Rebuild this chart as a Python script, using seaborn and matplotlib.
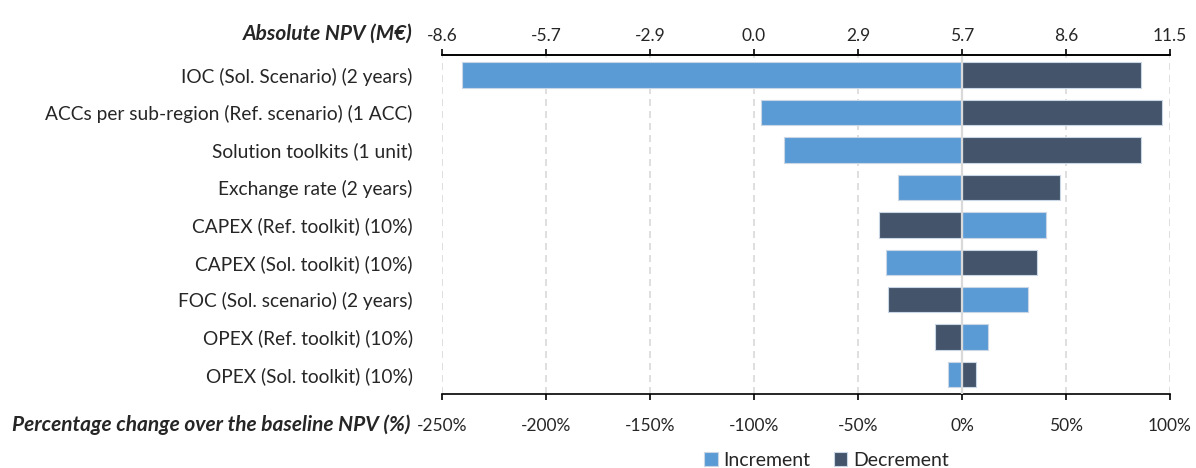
import matplotlib
matplotlib.use("Agg")
import matplotlib.pyplot as plt
import seaborn as sns
import pandas as pd

categories = [
    "IOC (Sol. Scenario) (2 years)",
    "ACCs per sub-region (Ref. scenario) (1 ACC)",
    "Solution toolkits (1 unit)",
    "Exchange rate (2 years)",
    "CAPEX (Ref. toolkit) (10%)",
    "CAPEX (Sol. toolkit) (10%)",
    "FOC (Sol. scenario) (2 years)",
    "OPEX (Ref. toolkit) (10%)",
    "OPEX (Sol. toolkit) (10%)",
]
increment = [-240.2, -96.6, -85.5, -30.7, 40.4, -36.6, 31.9, 12.5, -6.9]
decrement = [85.9, 96.2, 85.9, 47.1, -40.0, 36.2, -35.8, -13.0, 6.5]

pct_ticks = [-250, -200, -150, -100, -50, 0, 50, 100]
pct_labels = ["-250%", "-200%", "-150%", "-100%", "-50%", "0%", "50%", "100%"]
npv_labels = ["-8.6", "-5.7", "-2.9", "0.0", "2.9", "5.7", "8.6", "11.5"]

series_names = ["Increment", "Decrement"]
colors = {"Increment": "#5B9BD5", "Decrement": "#44546A"}

df = pd.DataFrame({
    "category": categories * 2,
    "value": increment + decrement,
    "kind": ["Increment"] * len(categories) + ["Decrement"] * len(categories),
})

sns.set_style("white")
plt.rcParams["font.family"] = ["Lato", "DejaVu Sans"]

fig = plt.figure(figsize=(11.96, 4.68), dpi=100)
ax = fig.add_axes([0.3696, 0.158, 0.6087, 0.7245])

sns.barplot(data=df, x="value", y="category", hue="kind", hue_order=series_names,
            order=categories, palette=colors, dodge=False, width=0.68, saturation=1,
            linewidth=0.8, edgecolor="#C9D6E6", ax=ax, zorder=3)

ax.set_xlim(-250, 100)
ax.set_ylim(8.52, -0.54)
ax.set_xticks(pct_ticks)
ax.set_xticklabels(pct_labels, fontsize=12.5)
ax.grid(axis="x", linestyle=(0, (4.2, 3)), linewidth=1.2, color="#D9D9D9", zorder=0)
ax.grid(axis="y", visible=False)
ax.axvline(0, color="#D9D9D9", linewidth=1.6, zorder=4)
ax.set_xlabel("")
ax.set_ylabel("")
ax.tick_params(axis="y", length=0, pad=21, labelsize=13.8)
ax.tick_params(axis="x", direction="out", length=4, width=1.2, color="black", pad=13)
for s in ["left", "right"]:
    ax.spines[s].set_visible(False)
for s in ["top", "bottom"]:
    ax.spines[s].set_color("black")
    ax.spines[s].set_linewidth(1.2)

ax2 = ax.twiny()
ax2.set_xlim(ax.get_xlim())
ax2.set_xticks(pct_ticks)
ax2.set_xticklabels(npv_labels, fontsize=12.5)
ax2.tick_params(axis="x", direction="out", length=4, width=1.2, color="black", pad=4)
for s in ["left", "right", "bottom"]:
    ax2.spines[s].set_visible(False)
ax2.spines["top"].set_linewidth(1.2)
ax2.spines["top"].set_color("black")

fig.text(0.345, 0.929, "Absolute NPV (M€)", ha="right", va="center",
         fontsize=15, fontweight="bold", fontstyle="italic")
fig.text(0.343, 0.092, "Percentage change over the baseline NPV (%)", ha="right",
         va="center", fontsize=15, fontweight="bold", fontstyle="italic")

handles, labels = ax.get_legend_handles_labels()
ax.legend_.remove()
fig.legend(handles, labels, loc="center", bbox_to_anchor=(0.691, 0.017), ncol=2,
           frameon=False, fontsize=14, handlelength=0.7, handleheight=0.7,
           handletextpad=0.3, columnspacing=1.2)

fig.savefig("out.png", dpi=100)
